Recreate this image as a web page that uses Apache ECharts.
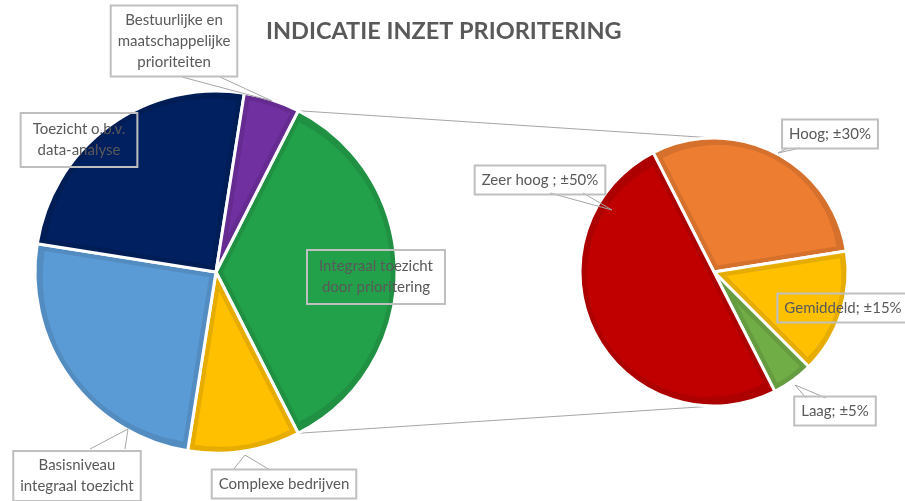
<!DOCTYPE html>
<html><head><meta charset="utf-8">
<script src="https://cdn.jsdelivr.net/npm/echarts@6/dist/echarts.min.js"></script>
<style>html,body{margin:0;padding:0;background:#fff}#c{width:905px;height:501px}</style>
</head><body><div id="c"></div>
<script>
// ---- data ----
const chartTitle = 'INDICATIE INZET PRIORITERING';
const mainCategories = ['Integraal toezicht\ndoor prioritering', 'Complexe bedrijven', 'Basisniveau\nintegraal toezicht', 'Toezicht o.b.v.\ndata-analyse', 'Bestuurlijke en\nmaatschappelijke\nprioriteiten'];
const mainValues = [35, 10, 25, 25, 5];
const mainColors = ['#23A14A', '#FFC000', '#5B9BD5', '#002060', '#7030A0'];
const subCategories = ['Hoog', 'Gemiddeld', 'Laag', 'Zeer hoog '];
const subValues = [30, 15, 5, 50];
const subColors = ['#ED7D31', '#FFC000', '#70AD47', '#C00000'];

// ---- layout ----
const sumMain = mainValues.reduce((a, b) => a + b, 0);
const leftPie = { cx: 216, cy: 272, r: 181, start: mainValues[0] / sumMain * 180 };
const rightPie = { cx: 714, cy: 272, r: 134, start: 117 };
const mainLabelPos = [[376, 277], [284, 484], [77, 476], [79, 140], [174, 41]];
const mainLabelPad = [[6, 12], [4, 7], [4, 7], [6, 12], [4, 7]];
// callout pointers: [edge point A, tip, edge point B]
const mainPointers = [null, [[233, 470], [245, 455], [270, 470]], [[90, 449], [128, 429], [125, 449]], null, [[182, 77], [272, 101], [220, 77]]];
const subLabelPos = [[830, 134], [843, 308], [835, 411], [540, 180]];
const subLabelPad = [[4, 7], [4, 7], [4, 7], [4, 7]];
const subPointers = [[[788, 148], [778, 153], [800, 148]], null, [[806, 398], [795, 385], [826, 398]], [[550, 193], [612, 210], [583, 193]]];
const TEXT = '#595959';
const FONT = 'Lato, "Open Sans", sans-serif';

function shade(hex, f) {
  const n = parseInt(hex.slice(1), 16);
  const r = Math.round(((n >> 16) & 255) * f), g = Math.round(((n >> 8) & 255) * f), b = Math.round((n & 255) * f);
  return 'rgb(' + r + ',' + g + ',' + b + ')';
}

function buildPie(pie, values, colors, names, labelPos, labelPad, pointers, formatter, idBase) {
  const sum = values.reduce((a, b) => a + b, 0);
  const series = [];
  // dark outer layer (border colour), white gaps
  series.push({
    type: 'pie', silent: true, z: 1, animation: false,
    center: [pie.cx, pie.cy], radius: pie.r, startAngle: pie.start, clockwise: true,
    label: { show: false }, labelLine: { show: false },
    data: values.map((v, i) => ({ name: names[i], value: v, itemStyle: { color: shade(colors[i], 0.9), borderColor: '#fff', borderWidth: 3 } }))
  });
  // inner lighter fill, inset per slice
  const d = 6;
  let cum = 0;
  values.forEach((v, i) => {
    const theta = v / sum * 2 * Math.PI;
    const mid = pie.start * Math.PI / 180 - (cum + v / 2) / sum * 2 * Math.PI;
    cum += v;
    const s = d / Math.sin(Math.min(theta, Math.PI) / 2);
    series.push({
      type: 'pie', silent: true, z: 2, animation: false,
      center: [pie.cx + s * Math.cos(mid), pie.cy - s * Math.sin(mid)],
      radius: pie.r - d - s, startAngle: pie.start, clockwise: true,
      label: { show: false }, labelLine: { show: false },
      data: values.map((vv, j) => ({ name: names[j], value: vv, itemStyle: { color: j === i ? colors[i] : 'rgba(0,0,0,0)', borderWidth: 0 } }))
    });
  });
  // label layer
  series.push({
    id: idBase, type: 'pie', silent: true, z: 3, animation: false,
    center: [pie.cx, pie.cy], radius: pie.r, startAngle: pie.start, clockwise: true,
    avoidLabelOverlap: false,
    label: {
      show: true, position: 'outside', formatter: formatter,
      color: TEXT, fontFamily: FONT, fontSize: 15, lineHeight: 21,
      borderColor: '#bfbfbf', borderWidth: 1, padding: [4, 7], backgroundColor: 'rgba(255,255,255,0)'
    },
    labelLine: { show: true, length: 6, length2: 6, smooth: false, lineStyle: { color: '#a6a6a6', width: 1 } },
    labelLayout: function (p) {
      const pos = labelPos[p.dataIndex];
      const o = { x: pos[0], y: pos[1], align: 'center', verticalAlign: 'middle' };
      if (pointers[p.dataIndex]) o.labelLinePoints = pointers[p.dataIndex];
      return o;
    },
    data: values.map((v, i) => ({ name: names[i], value: v, itemStyle: { color: 'rgba(0,0,0,0)' }, label: { padding: labelPad[i] }, labelLine: { show: !!pointers[i] } }))
  });
  return series;
}

const series = [].concat(
  buildPie(leftPie, mainValues, mainColors, mainCategories, mainLabelPos, mainLabelPad, mainPointers, p => p.name, 'main'),
  buildPie(rightPie, subValues, subColors, subCategories, subLabelPos, subLabelPad, subPointers, p => p.name + '; ±' + p.value + '%', 'sub')
);

// connector lines between the "other" slice and the secondary pie
const a = leftPie.start * Math.PI / 180;
const graphic = [
  { type: 'line', z: 0, silent: true, shape: { x1: leftPie.cx + leftPie.r * Math.cos(a), y1: leftPie.cy - leftPie.r * Math.sin(a), x2: rightPie.cx, y2: rightPie.cy - rightPie.r }, style: { stroke: '#a6a6a6', lineWidth: 1 } },
  { type: 'line', z: 0, silent: true, shape: { x1: leftPie.cx + leftPie.r * Math.cos(a), y1: leftPie.cy + leftPie.r * Math.sin(a), x2: rightPie.cx, y2: rightPie.cy + rightPie.r }, style: { stroke: '#a6a6a6', lineWidth: 1 } }
];

const chart = echarts.init(document.getElementById('c'), null, { renderer: 'canvas' });
chart.setOption({
  backgroundColor: '#fff',
  animation: false,
  title: { text: chartTitle, left: 261, top: 14, textStyle: { fontFamily: FONT, fontWeight: 'bold', fontSize: 23.5, color: TEXT } },
  graphic: graphic,
  series: series
});
</script></body></html>
